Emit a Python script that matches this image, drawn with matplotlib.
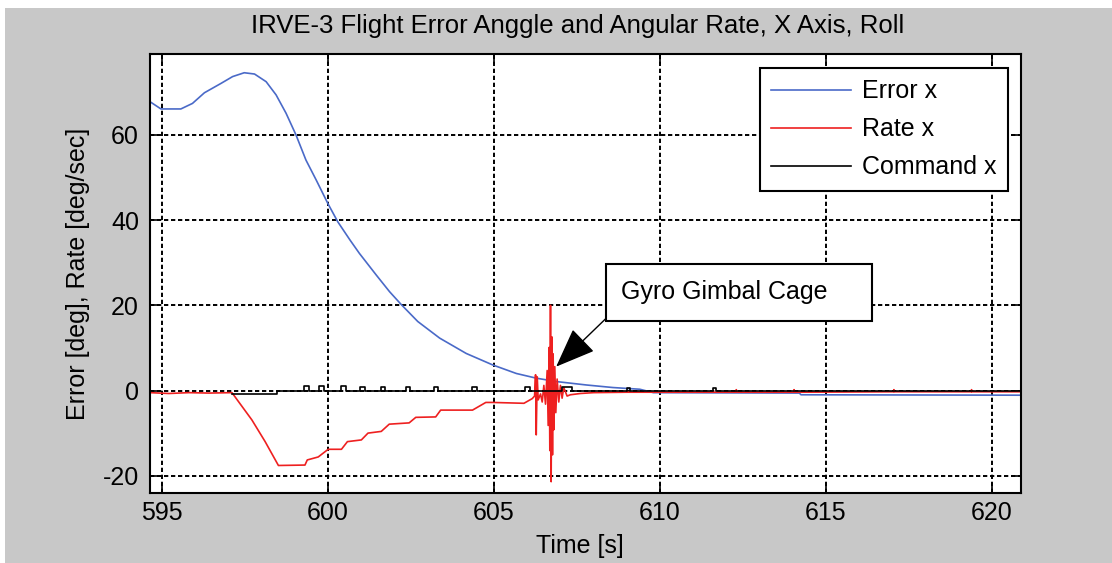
import matplotlib
matplotlib.use("Agg")
import matplotlib.pyplot as plt
from matplotlib.patches import Rectangle

plt.rcParams["font.family"] = ["Liberation Sans", "DejaVu Sans"]
plt.rcParams["axes.unicode_minus"] = False

# Error x (blue): attitude error [deg]
err_t = [594.63, 594.96, 595.56, 595.91, 596.27, 596.77, 597.12, 597.47, 597.78, 598.13,
         598.43, 598.73, 599.03, 599.33, 599.64, 599.99, 600.29, 600.66, 600.94, 601.45,
         601.85, 602.2, 602.7, 603.36, 604.16, 604.96, 605.67, 606.27, 606.88, 607.78,
         608.58, 609.39, 609.8, 614.2, 614.25, 620.88]
err_v = [67.8, 66.1, 66.1, 67.4, 69.9, 72.1, 73.7, 74.6, 74.3, 72.5,
         69.4, 65.1, 60.0, 54.1, 49.4, 43.9, 39.6, 35.3, 32.2, 27.1,
         23.2, 20.2, 16.2, 12.3, 8.7, 6.0, 4.0, 2.9, 2.1, 1.3,
         0.7, 0.3, -0.5, -0.6, -1.0, -1.1]

# Rate x (red): body rate [deg/sec], incl. gyro gimbal cage transient
rate_t = [594.63, 595.2, 595.8, 596.4, 597.1, 597.7, 598.1, 598.5, 599.3, 599.37,
          599.7, 599.9, 600.0, 600.4, 600.58, 601.0, 601.2, 601.6, 601.84, 602.44,
          602.64, 603.24, 603.39, 604.35, 604.75, 604.95, 605.9, 606.15, 606.22,
          606.25, 606.27, 606.30, 606.33, 606.40, 606.45, 606.50, 606.55, 606.60,
          606.63, 606.66, 606.68, 606.70, 606.72, 606.74, 606.76, 606.78, 606.80,
          606.83, 606.86, 606.90, 606.95, 607.00, 607.05, 607.10, 607.20, 607.30,
          607.6, 608.0, 609.0, 612.29, 612.3, 612.31, 614.03, 614.04, 614.05,
          617.04, 617.05, 617.06, 619.38, 619.39, 619.40, 620.88]
rate_v = [-0.5, -0.7, -0.5, -0.6, -0.5, -6.9, -12.0, -17.6, -17.5, -16.3,
          -15.6, -14.4, -13.8, -13.8, -12.0, -11.6, -10.0, -9.6, -7.9, -7.6,
          -6.3, -6.2, -4.6, -4.6, -2.8, -2.8, -3.0, -1.9, -1.3,
          3.7, -10.4, 3.2, -2.2, -0.8, -2.7, 1.2, -3.2, 4.7,
          -8.2, 10.1, -14.1, 20.0, -21.4, 12.6, -15.1, 8.6, -9.2,
          5.6, -5.2, 2.7, -2.7, 1.2, -1.8, 0.7, -1.3, -1.0,
          -0.7, -0.5, -0.4, -0.4, 0.2, -0.4, -0.4, 0.2, -0.4,
          -0.3, 0.2, -0.3, -0.3, 0.2, -0.3, -0.3]

# Command x (black): step command [deg]
cmd_t = [597.1, 598.45, 599.28, 599.43, 599.71, 599.88, 600.38, 600.55, 600.96,
         601.11, 601.59, 601.71, 602.34, 602.47, 603.19, 603.31, 604.33, 604.48,
         605.93, 606.08, 607.06, 607.36, 609.0, 609.1, 611.6, 611.7, 620.88]
cmd_v = [-0.8, 0.0, 1.0, 0.0, 1.0, 0.0, 1.0, 0.0, 0.9,
         0.0, 0.9, 0.0, 0.9, 0.0, 0.9, 0.0, 0.9, 0.0,
         0.9, 0.0, 0.8, 0.0, 0.5, 0.0, 0.5, 0.0, 0.0]

xticks = [595, 600, 605, 610, 615, 620]
yticks = [-20, 0, 20, 40, 60]

fig = plt.figure(figsize=(11.12, 5.63), dpi=100, facecolor="white")
fig.patches.append(Rectangle((5 / 1112, 0), 1, 555 / 563, transform=fig.transFigure,
                             facecolor="#c8c8c8", edgecolor="none", zorder=-10))
ax = fig.add_axes([150 / 1112, 70 / 563, 871 / 1112, 439 / 563])
ax.set_facecolor("white")

ax.plot(err_t, err_v, color="#4a6ac8", lw=1.2, label="Error x")
ax.plot(rate_t, rate_v, color="#ee2020", lw=1.2, label="Rate x")
ax.plot(cmd_t, cmd_v, color="black", lw=1.2, drawstyle="steps-post", label="Command x")

ax.set_xlim(594.63, 620.88)
ax.set_ylim(-24.06, 79.0)
ax.set_xticks(xticks)
ax.set_yticks(yticks)
ax.grid(True, color="black", lw=1.4, linestyle=(0, (2.2, 1.4)))
ax.tick_params(direction="in", top=True, right=True, length=7, width=1.2,
               labelsize=18, colors="black")
ax.tick_params(axis="x", pad=6)
ax.tick_params(axis="y", pad=8)
for s in ax.spines.values():
    s.set_linewidth(1.5)

ax.set_title("IRVE-3 Flight Error Anggle and Angular Rate, X Axis, Roll",
             fontsize=18.5, pad=15, x=0.491)
ax.set_xlabel("Time [s]", fontsize=18)
ax.xaxis.set_label_coords(0.494, -0.094)
ax.xaxis.label.set_va("top")
ax.set_ylabel("Error [deg], Rate [deg/sec]", fontsize=18)
ax.yaxis.set_label_coords(-0.069, 0.5)

leg = ax.legend(loc="upper right", bbox_to_anchor=(0.985, 0.968), fontsize=18,
                handlelength=3.2, labelspacing=0.56, borderpad=0.45,
                handletextpad=0.45, borderaxespad=0,
                fancybox=False, framealpha=1, edgecolor="black")
leg.get_frame().set_linewidth(1.5)

# text box + arrow pointing at the gimbal cage transient
ax.add_patch(Rectangle((608.37, 16.4), 8.02, 13.4, facecolor="white",
                       edgecolor="black", lw=1.5, zorder=5))
ax.text(608.83, 23.1, "Gyro Gimbal Cage", fontsize=18, va="center", ha="left", zorder=6)
ax.annotate("", xy=(606.87, 5.6), xytext=(608.37, 16.9),
            arrowprops=dict(arrowstyle="-|>,head_length=1.4,head_width=0.55",
                            color="black", lw=1.0, mutation_scale=18,
                            shrinkA=0, shrinkB=0), zorder=6)

fig.savefig("out.png", dpi=100, facecolor=fig.get_facecolor())
